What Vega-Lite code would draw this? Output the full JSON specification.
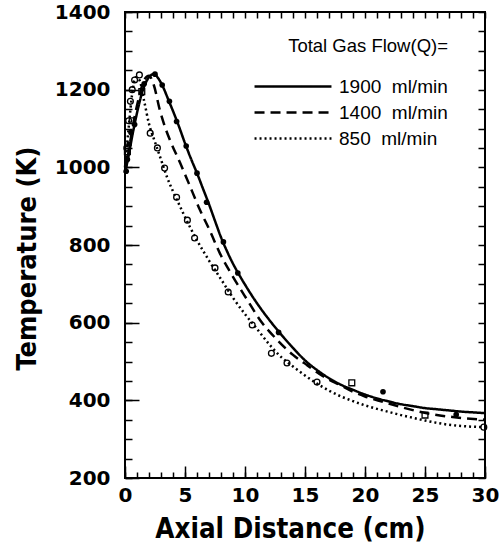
{
 "$schema": "https://vega.github.io/schema/vega-lite/v6.json",
 "autosize": {"type": "none"},
 "padding": {"left": 125, "top": 12, "right": 14, "bottom": 65},
 "width": 360,
 "height": 466,
 "background": "white",
 "config": {
  "view": {"stroke": "black", "strokeWidth": 2, "fill": null},
  "axis": {"labelColor": "black", "titleColor": "black", "domain": false, "grid": false, "tickColor": "black", "tickWidth": 1.5}
 },
 "datasets": {
  "curves": [
   {"s":"1900","x":0,"T":985},{"s":"1900","x":0.3,"T":1030},{"s":"1900","x":0.6,"T":1080},{"s":"1900","x":1,"T":1140},{"s":"1900","x":1.5,"T":1200},{"s":"1900","x":2,"T":1232},{"s":"1900","x":2.4,"T":1240},{"s":"1900","x":2.8,"T":1228},{"s":"1900","x":3.2,"T":1205},{"s":"1900","x":3.6,"T":1175},{"s":"1900","x":4,"T":1145},{"s":"1900","x":4.5,"T":1105},{"s":"1900","x":5,"T":1062},{"s":"1900","x":5.5,"T":1022},{"s":"1900","x":6,"T":985},{"s":"1900","x":6.5,"T":945},{"s":"1900","x":7,"T":905},{"s":"1900","x":7.5,"T":862},{"s":"1900","x":8,"T":820},{"s":"1900","x":8.5,"T":784},{"s":"1900","x":9,"T":752},{"s":"1900","x":9.5,"T":724},{"s":"1900","x":10,"T":698},{"s":"1900","x":11,"T":650},{"s":"1900","x":12,"T":608},{"s":"1900","x":13,"T":570},{"s":"1900","x":14,"T":535},{"s":"1900","x":15,"T":503},{"s":"1900","x":16,"T":478},{"s":"1900","x":17,"T":457},{"s":"1900","x":18,"T":440},{"s":"1900","x":19,"T":427},{"s":"1900","x":20,"T":415},{"s":"1900","x":21,"T":405},{"s":"1900","x":22,"T":397},{"s":"1900","x":23,"T":390},{"s":"1900","x":24,"T":385},{"s":"1900","x":25,"T":380},{"s":"1900","x":26,"T":377},{"s":"1900","x":27,"T":374},{"s":"1900","x":28,"T":371},{"s":"1900","x":29,"T":369},{"s":"1900","x":30,"T":367},
   {"s":"1400","x":0,"T":985},{"s":"1400","x":0.4,"T":1060},{"s":"1400","x":0.8,"T":1130},{"s":"1400","x":1.2,"T":1185},{"s":"1400","x":1.6,"T":1225},{"s":"1400","x":2,"T":1236},{"s":"1400","x":2.4,"T":1212},{"s":"1400","x":2.9,"T":1148},{"s":"1400","x":3.4,"T":1098},{"s":"1400","x":3.75,"T":1070},{"s":"1400","x":4.6,"T":1011},{"s":"1400","x":5.3,"T":960},{"s":"1400","x":6.25,"T":890},{"s":"1400","x":7.1,"T":835},{"s":"1400","x":7.9,"T":779},{"s":"1400","x":9,"T":718},{"s":"1400","x":10.2,"T":658},{"s":"1400","x":11.25,"T":607},{"s":"1400","x":12.7,"T":555},{"s":"1400","x":14,"T":517},{"s":"1400","x":15.2,"T":490},{"s":"1400","x":16.5,"T":462},{"s":"1400","x":18,"T":438},{"s":"1400","x":19,"T":422},{"s":"1400","x":20,"T":410},{"s":"1400","x":21.5,"T":396},{"s":"1400","x":23.2,"T":381},{"s":"1400","x":25.4,"T":365},{"s":"1400","x":27.3,"T":357},{"s":"1400","x":30,"T":350},
   {"s":"850","x":0,"T":1000},{"s":"850","x":0.3,"T":1100},{"s":"850","x":0.6,"T":1190},{"s":"850","x":0.9,"T":1232},{"s":"850","x":1.2,"T":1225},{"s":"850","x":1.6,"T":1170},{"s":"850","x":2,"T":1112},{"s":"850","x":2.5,"T":1065},{"s":"850","x":3,"T":1020},{"s":"850","x":3.5,"T":975},{"s":"850","x":4,"T":938},{"s":"850","x":4.5,"T":905},{"s":"850","x":5,"T":872},{"s":"850","x":6,"T":812},{"s":"850","x":7,"T":760},{"s":"850","x":8,"T":712},{"s":"850","x":9,"T":664},{"s":"850","x":10,"T":622},{"s":"850","x":11,"T":584},{"s":"850","x":12,"T":545},{"s":"850","x":13,"T":512},{"s":"850","x":14,"T":487},{"s":"850","x":15,"T":464},{"s":"850","x":16,"T":443},{"s":"850","x":17,"T":425},{"s":"850","x":18,"T":410},{"s":"850","x":19,"T":398},{"s":"850","x":20,"T":387},{"s":"850","x":21,"T":378},{"s":"850","x":22,"T":370},{"s":"850","x":23,"T":362},{"s":"850","x":24,"T":355},{"s":"850","x":25,"T":348},{"s":"850","x":26,"T":342},{"s":"850","x":27,"T":337},{"s":"850","x":28,"T":334},{"s":"850","x":29,"T":332},{"s":"850","x":30,"T":331}
  ],
  "pts": [
   {"g":"1900","x":0.1,"T":990},{"g":"1900","x":0.2,"T":1020},{"g":"1900","x":0.35,"T":1060},{"g":"1900","x":0.5,"T":1090},{"g":"1900","x":0.8,"T":1110},{"g":"1900","x":1.6,"T":1215},{"g":"1900","x":2.5,"T":1240},{"g":"1900","x":3.1,"T":1212},{"g":"1900","x":3.7,"T":1170},{"g":"1900","x":4.3,"T":1118},{"g":"1900","x":5.1,"T":1055},{"g":"1900","x":6,"T":985},{"g":"1900","x":6.8,"T":910},{"g":"1900","x":8.2,"T":808},{"g":"1900","x":9.4,"T":728},{"g":"1900","x":12.8,"T":575},{"g":"1900","x":21.5,"T":422},{"g":"1900","x":27.6,"T":363},
   {"g":"1400","x":0.2,"T":1040},{"g":"1400","x":0.6,"T":1120},{"g":"1400","x":1.4,"T":1195},{"g":"1400","x":18.9,"T":445},{"g":"1400","x":25,"T":362},
   {"g":"850","x":0.15,"T":1050},{"g":"850","x":0.3,"T":1120},{"g":"850","x":0.45,"T":1170},{"g":"850","x":0.6,"T":1200},{"g":"850","x":0.8,"T":1225},{"g":"850","x":1.2,"T":1238},{"g":"850","x":2.1,"T":1088},{"g":"850","x":2.7,"T":1050},{"g":"850","x":3.3,"T":998},{"g":"850","x":4.3,"T":923},{"g":"850","x":5.2,"T":864},{"g":"850","x":5.8,"T":818},{"g":"850","x":7.5,"T":741},{"g":"850","x":8.6,"T":679},{"g":"850","x":10.6,"T":594},{"g":"850","x":12.2,"T":521},{"g":"850","x":13.5,"T":496},{"g":"850","x":16,"T":447},{"g":"850","x":29.9,"T":331}
  ]
 },
 "layer": [
  {
   "data": {"name": "curves"},
   "mark": {"type": "line", "color": "black", "strokeWidth": 2.5, "interpolate": "monotone"},
   "encoding": {
    "x": {"field": "x", "type": "quantitative", "scale": {"domain": [0, 30], "nice": false},
     "axis": {"orient": "bottom", "title": "Axial Distance (cm)", "zindex": 1,
      "values": [0,5,10,15,20,25,30], "offset": -12, "tickSize": 12, "format": "d",
      "labelPadding": 7, "labelFont": "DejaVu Sans", "labelFontWeight": "bold", "labelFontSize": 20,
      "labelOverlap": false, "labelFlush": false,
      "titleFont": "DejaVu Sans Condensed, Liberation Sans Narrow, DejaVu Sans", "titleFontSize": 27.5, "titleFontWeight": "bold",
      "titleX": 165, "titleY": 63, "titleBaseline": "middle", "titleAnchor": "middle"}},
    "y": {"field": "T", "type": "quantitative", "scale": {"domain": [200, 1400], "nice": false, "zero": false},
     "axis": {"orient": "left", "title": "Temperature (K)", "zindex": 1,
      "values": [200,400,600,800,1000,1200,1400], "offset": -14, "tickSize": 14, "format": "d",
      "labelPadding": 15, "labelFont": "DejaVu Sans", "labelFontWeight": "bold", "labelFontSize": 20,
      "labelOverlap": false, "labelFlush": false,
      "titleFont": "DejaVu Sans Condensed, Liberation Sans Narrow, DejaVu Sans", "titleFontSize": 27, "titleFontWeight": "bold",
      "titleX": -112, "titleY": 246, "titleBaseline": "middle", "titleAngle": -90}},
    "strokeDash": {"field": "s", "type": "nominal",
     "scale": {"domain": ["1900", "1400", "850"], "range": [[1, 0], [10, 6], [2, 3]]},
     "legend": {"title": "Total Gas Flow(Q)=", "orient": "none", "legendX": 157, "legendY": 25,
      "symbolType": "M-4,0H4", "symbolSize": 370, "symbolStrokeWidth": 2.5, "symbolStrokeColor": "black",
      "labelExpr": "datum.label + '\u00a0\u00a0ml/min'", "labelFont": "Liberation Sans", "labelFontSize": 19, "labelColor": "black",
      "titleFont": "Liberation Sans", "titleFontSize": 18.5, "titleFontWeight": "normal", "titleColor": "black",
      "titleAnchor": "end", "titlePadding": 20, "rowPadding": 5, "labelOffset": 35}}
   }
  },
  {
   "data": {"name": "pts"},
   "transform": [{"filter": "datum.g === '1900'"}],
   "mark": {"type": "point", "filled": true, "color": "black", "size": 32, "opacity": 1},
   "encoding": {
    "x": {"field": "x", "type": "quantitative",
     "axis": {"orient": "bottom", "title": null, "labels": false, "zindex": 1, "offset": -6, "tickSize": 6,
      "values": [0,1,2,3,4,5,6,7,8,9,10,11,12,13,14,15,16,17,18,19,20,21,22,23,24,25,26,27,28,29,30]}},
    "y": {"field": "T", "type": "quantitative",
     "axis": {"orient": "left", "title": null, "labels": false, "zindex": 1, "offset": -7, "tickSize": 7,
      "values": [200,250,300,350,400,450,500,550,600,650,700,750,800,850,900,950,1000,1050,1100,1150,1200,1250,1300,1350,1400]}}
   }
  },
  {
   "data": {"name": "pts"},
   "transform": [{"filter": "datum.g !== '1900'"}],
   "mark": {"type": "point", "filled": false, "color": "black", "strokeWidth": 1.3, "size": 34, "opacity": 1},
   "encoding": {
    "x": {"field": "x", "type": "quantitative",
     "axis": {"orient": "top", "title": null, "labels": false, "zindex": 1, "offset": -6, "tickSize": 6,
      "values": [0,1,2,3,4,5,6,7,8,9,10,11,12,13,14,15,16,17,18,19,20,21,22,23,24,25,26,27,28,29,30]}},
    "y": {"field": "T", "type": "quantitative",
     "axis": {"orient": "right", "title": null, "labels": false, "zindex": 1, "offset": -7, "tickSize": 7,
      "values": [200,250,300,350,400,450,500,550,600,650,700,750,800,850,900,950,1000,1050,1100,1150,1200,1250,1300,1350,1400]}},
    "shape": {"field": "g", "type": "nominal", "scale": {"domain": ["1400", "850"], "range": ["square", "circle"]}, "legend": null}
   }
  }
 ],
 "resolve": {"axis": {"x": "independent", "y": "independent"}}
}
